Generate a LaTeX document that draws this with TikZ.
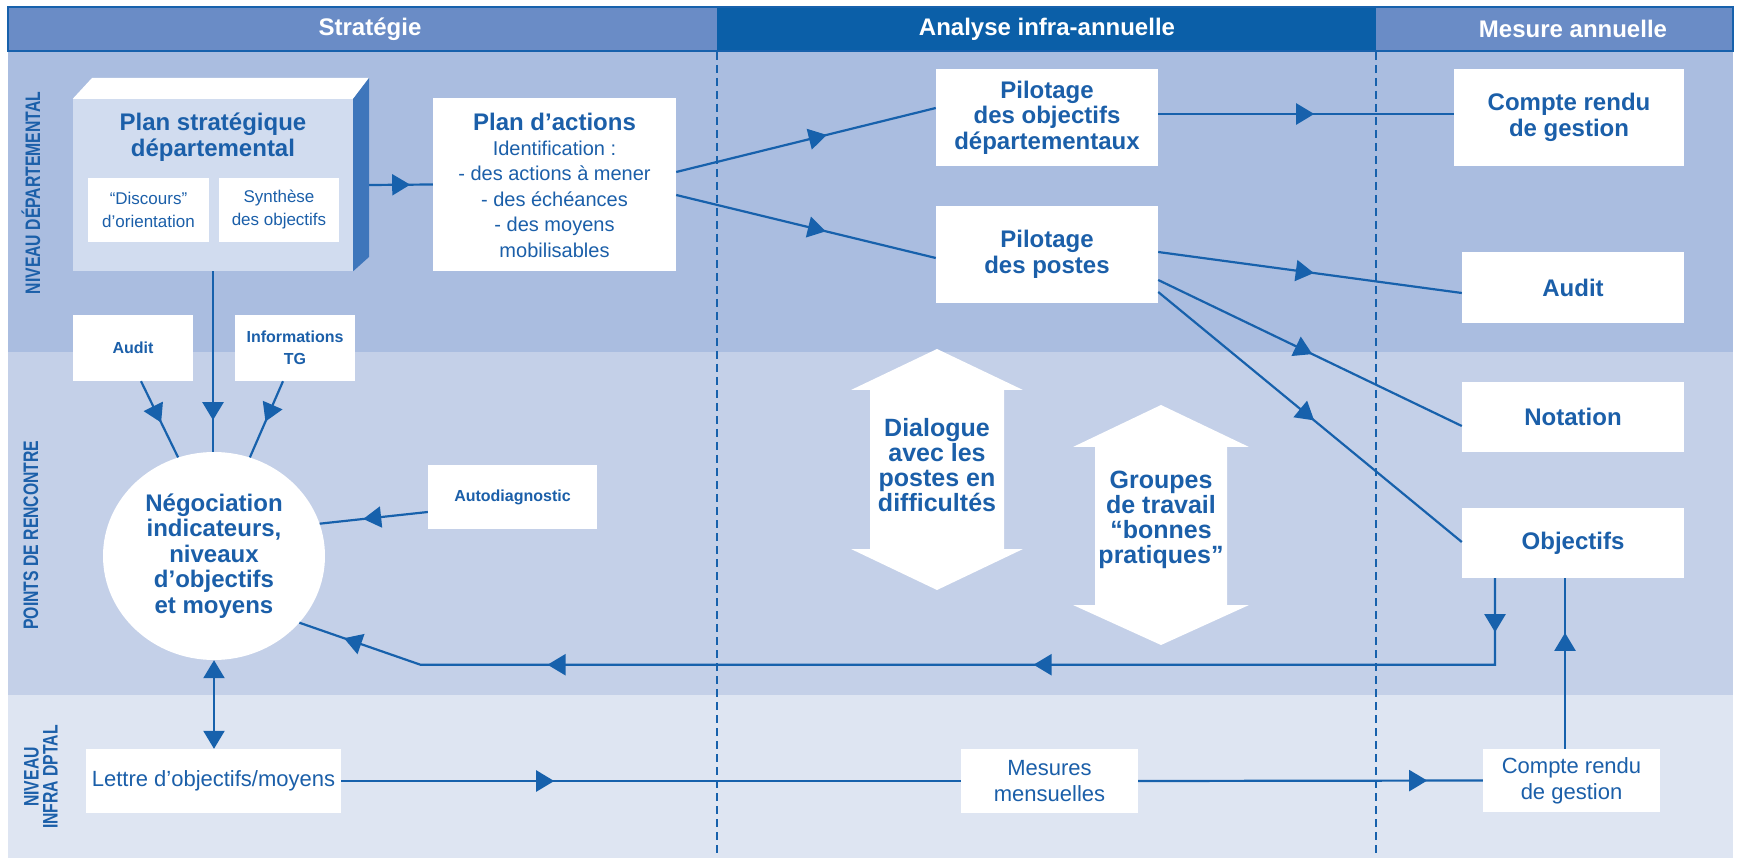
\documentclass[tikz,border=0pt]{standalone}
\usepackage{fontspec}
\setmainfont{Liberation Sans}
\newfontfamily\narrowfont{Liberation Sans}[FakeStretch=0.75]
\usetikzlibrary{arrows.meta,decorations.markings,shapes.geometric,calc}

\definecolor{inkblue}{HTML}{1B5FA9}
\definecolor{lineblue}{HTML}{1761AC}
\definecolor{bandA}{HTML}{AABDE0}
\definecolor{bandB}{HTML}{C4D0E8}
\definecolor{bandC}{HTML}{DEE5F2}
\definecolor{headlight}{HTML}{6A8CC6}
\definecolor{headdark}{HTML}{0B5FA8}
\definecolor{faceside}{HTML}{3E76BB}
\definecolor{facefront}{HTML}{D1DCEF}

% font sizes, in pt (one unit of the picture is one point)
\newcommand\txthead{\bfseries\fontsize{24}{26}\selectfont}
\newcommand\txtbig{\bfseries\fontsize{24}{25.5}\selectfont}
\newcommand\txtlist{\fontsize{20}{25.5}\selectfont}
\newcommand\txtlow{\fontsize{22}{26}\selectfont}
\newcommand\txtsmallb{\bfseries\fontsize{16}{22}\selectfont}
\newcommand\txtsmall{\fontsize{17}{23}\selectfont}
\newcommand\txtlane{\narrowfont\bfseries\fontsize{21}{19}\selectfont}

\tikzset{
  whitebox/.style={fill=white, inner sep=0pt, align=center, text=inkblue},
  bluetext/.style={text=inkblue, inner sep=0pt, align=center},
  conn/.style={draw=lineblue, line width=2.2pt},
  headat/.style={postaction={decorate, decoration={markings,
      mark=at position #1 with {\arrow{Triangle[length=18pt,width=21pt,color=lineblue]}}}}},
  lanetext/.style={text=inkblue, rotate=90, align=center, font=\txtlane, inner sep=0pt},
  laneline/.style={draw=lineblue, line width=1.4pt, dash pattern=on 8pt off 5pt},
}

\begin{document}
\begin{tikzpicture}[x=1pt, y=-1pt]
\useasboundingbox (0,0) rectangle (1738,858);

% horizontal bands
\fill[bandA] (8,52) rectangle (1733,352);
\fill[bandB] (8,352) rectangle (1733,695);
\fill[bandC] (8,695) rectangle (1733,858);

% column headings
\fill[headlight] (8,7) rectangle (717,52);
\fill[headdark] (717,7) rectangle (1376,52);
\fill[headlight] (1376,7) rectangle (1733,52);
\draw[lineblue, line width=2pt] (8,7) rectangle (1733,51);
\node[text=white, font=\txthead] (hstrat) at (370,29) {Stratégie};
\node[text=white, font=\txthead] (hinfra) at (1047,29) {Analyse infra-annuelle};
\node[text=white, font=\txthead] (hannu) at (1573,29) {Mesure annuelle};

% column separators
\draw[laneline] (717,52) -- (717,858);
\draw[laneline] (1376,52) -- (1376,858);

% lane titles
\node[lanetext] (lane1) at (31,193) {NIVEAU DÉPARTEMENTAL};
\node[lanetext] (lane2) at (31,535) {POINTS DE RENCONTRE};
\node[lanetext] (lane3) at (41,777) {NIVEAU\\INFRA DPTAL};

% departmental strategic plan, drawn as a block
\node[fill=facefront, minimum width=280pt, minimum height=172pt, inner sep=0pt] (ps) at (213,185) {};
\fill[white] (ps.north west) -- (92,78) -- (369,78) -- (ps.north east) -- cycle;
\fill[faceside] (ps.north east) -- (369,78) -- (369,257) -- (ps.south east) -- cycle;
\node[bluetext, font=\txtbig] (pstitle) at (213,137) {Plan stratégique\\départemental};
\node[whitebox, font=\txtsmall, minimum width=121pt, minimum height=64pt] (disc) at (148.5,210) {“Discours”\\d’orientation};
\node[whitebox, font=\txtsmall, minimum width=120pt, minimum height=64pt] (syn) at (279,210) {Synthèse\\des objectifs};

% action plan
\node[whitebox, minimum width=243pt, minimum height=173pt] (pa) at (554.5,184.5) {};
\node[bluetext, font=\txtbig] (patitle) at (554.5,122) {Plan d’actions};
\node[bluetext, font=\txtlist] (palist) at (554.5,199) {Identification :\\- des actions à mener\\- des échéances\\- des moyens\\mobilisables};

% steering and yearly outputs
\node[whitebox, font=\txtbig, minimum width=222pt, minimum height=97pt] (po) at (1047,117.5) {Pilotage\\des objectifs\\départementaux};
\node[whitebox, font=\txtbig, minimum width=222pt, minimum height=97pt] (pp) at (1047,254.5) {Pilotage\\des postes};
\node[whitebox, font=\txtbig, minimum width=230pt, minimum height=97pt] (crt) at (1569,117.5) {Compte rendu\\de gestion};
\node[whitebox, font=\txtbig, minimum width=222pt, minimum height=71pt] (aud) at (1573,287.5) {Audit};
\node[whitebox, font=\txtbig, minimum width=222pt, minimum height=70pt] (nota) at (1573,417) {Notation};
\node[whitebox, font=\txtbig, minimum width=222pt, minimum height=70pt] (obj) at (1573,543) {Objectifs};

% inputs of the negotiation
\node[whitebox, font=\txtsmallb, minimum width=120pt, minimum height=66pt] (auds) at (133,348) {Audit};
\node[whitebox, font=\txtsmallb, minimum width=120pt, minimum height=66pt] (itg) at (295,348) {Informations\\TG};
\node[whitebox, font=\txtsmallb, minimum width=169pt, minimum height=64pt] (adg) at (512.5,497) {Autodiagnostic};
\node[ellipse, fill=white, minimum width=222pt, minimum height=208pt, inner sep=0pt,
      text=inkblue, align=center, font=\txtbig] (neg) at (214,556)
      {Négociation\\indicateurs,\\niveaux\\d’objectifs\\et moyens};

% meeting points
\fill[white] (937,349) -- (1023,390) -- (1004,390) -- (1004,549) -- (1023,549) -- (937,590)
  -- (851,549) -- (870,549) -- (870,390) -- (851,390) -- cycle;
\node[bluetext, font=\bfseries\fontsize{25}{25}\selectfont] (dlg) at (937,465) {Dialogue\\avec les\\postes en\\difficultés};
\fill[white] (1161,405) -- (1249,447) -- (1227,447) -- (1227,605) -- (1249,605) -- (1161,645)
  -- (1073,605) -- (1095,605) -- (1095,447) -- (1073,447) -- cycle;
\node[bluetext, font=\bfseries\fontsize{25}{25}\selectfont] (grp) at (1161,520) {Groupes\\de travail\\“bonnes\\pratiques”};

% sub-departmental level
\node[whitebox, font=\txtlow, minimum width=255pt, minimum height=64pt] (let) at (213.5,781) {Lettre d’objectifs/moyens};
\node[whitebox, font=\txtlow, minimum width=177pt, minimum height=64pt] (mes) at (1049.5,781) {Mesures\\mensuelles};
\node[whitebox, font=\txtlow, minimum width=177pt, minimum height=63pt] (crb) at (1571.5,780.5) {Compte rendu\\de gestion};

% connectors
\draw[conn, headat=41pt] ($(ps.east)+(16,0)$) -- (pa.west);
\draw[conn, headat=155pt] ($(pa.east)+(0,-12.5)$) -- ($(po.west)+(0,-9.5)$);
\draw[conn, headat=154pt] ($(pa.east)+(0,10.5)$) -- ($(pp.west)+(0,3.5)$);
\draw[conn, headat=156pt] ($(po.east)+(0,-3.5)$) -- ($(crt.west)+(0,-3.5)$);
\draw[conn, headat=157pt] ($(pp.east)+(0,-2.5)$) -- ($(aud.west)+(0,5.5)$);
\draw[conn, headat=171pt] ($(pp.east)+(0,25.5)$) -- ($(nota.west)+(0,9)$);
\draw[conn, headat=202pt] ($(pp.east)+(0,37.5)$) -- ($(obj.west)+(0,-1)$);

\draw[conn, headat=149pt] (ps.south) -- (ps.south |- neg.north);
\draw[conn, headat=46pt] ($(auds.south)+(8,0)$) -- (neg.110);
\draw[conn, headat=44pt] ($(itg.south)+(-12,0)$) -- (neg.70);
\draw[conn, headat=65pt] ($(adg.west)+(0,15)$) -- (neg.17);

\coordinate (retfoot) at ($(obj.south)+(-78,0)$);
\draw[conn, headat=54pt, headat=548pt, headat=1034pt, headat=1242pt]
  (retfoot) |- ($(neg.322)+(121,42)$) -- (neg.322);

\coordinate (upfoot) at ($(crb.north)+(-6.5,0)$);
\draw[conn, headat=116pt] (upfoot) -- (upfoot |- obj.south);

\draw[conn, {Triangle[length=18pt,width=21pt]}-{Triangle[length=18pt,width=21pt]}]
  (neg.south) -- (neg.south |- let.north);
\draw[conn, headat=213pt] (let.east) -- (mes.west);
\draw[conn, headat=289pt] (mes.east) -- (crb.west);
\end{tikzpicture}
\end{document}
